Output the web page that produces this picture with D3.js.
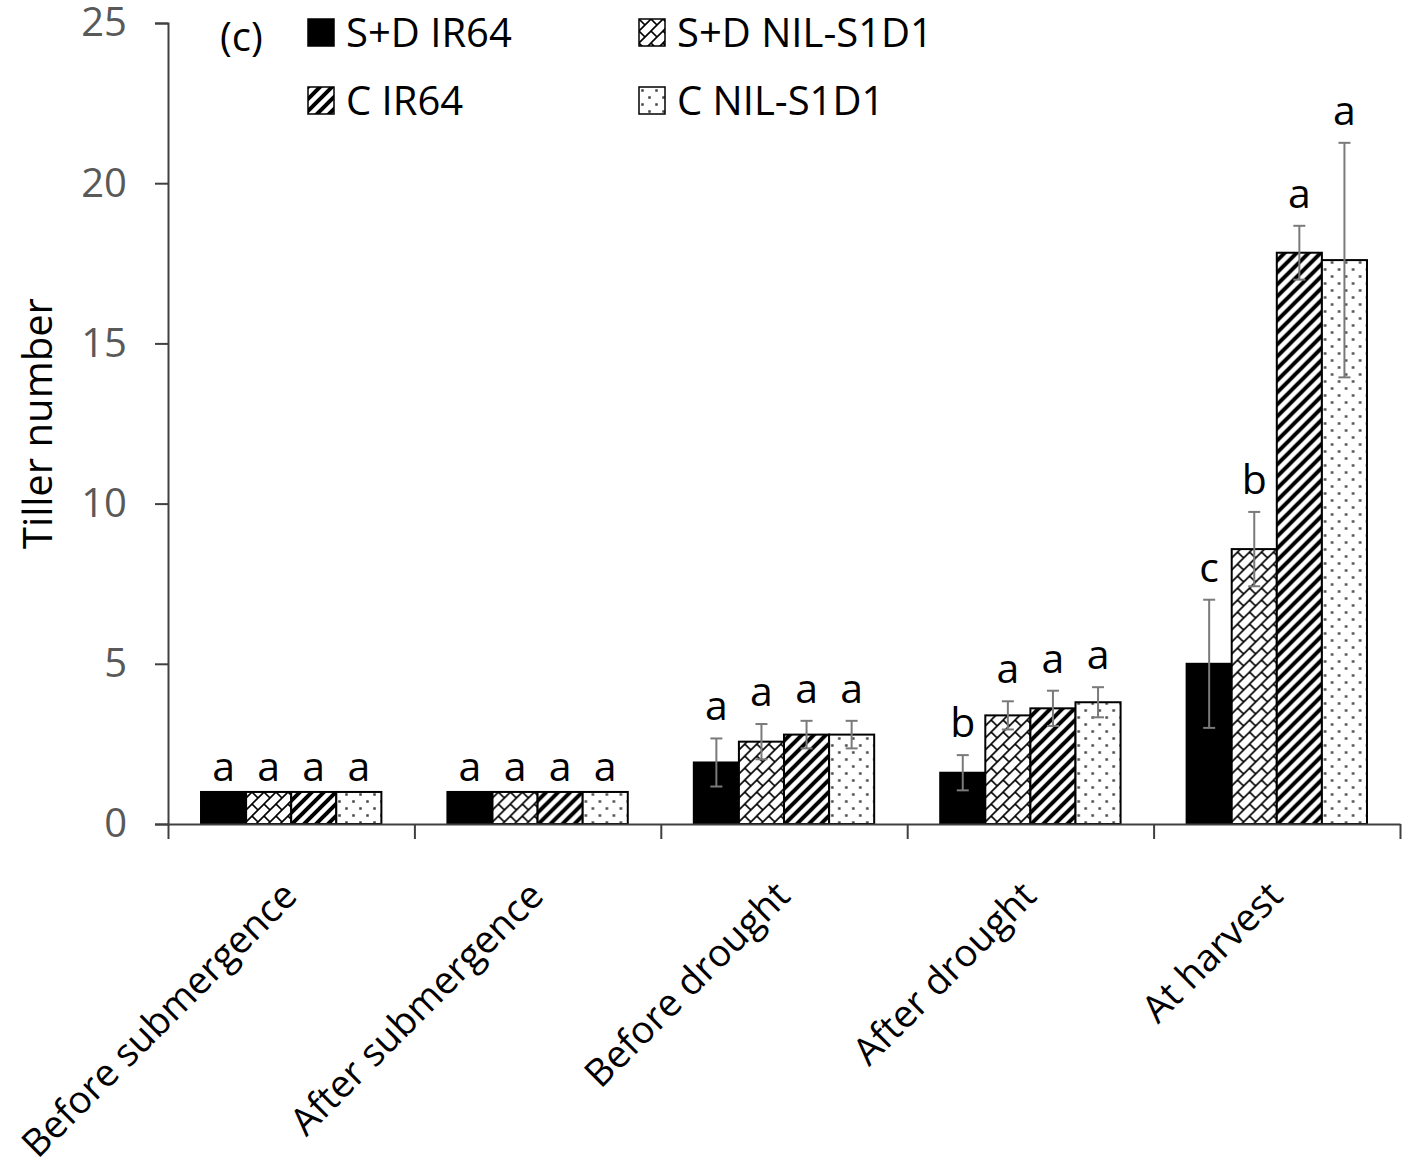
<!DOCTYPE html>
<html>
<head>
<meta charset="utf-8">
<script src="https://cdn.jsdelivr.net/npm/d3@7/dist/d3.min.js"></script>
<style>
  body { margin: 0; background: #fff; }
  svg { display: block; }
  text { font-family: "Open Sans", "Noto Sans", sans-serif; }
</style>
</head>
<body>
<svg id="chart" width="1406" height="1166"></svg>
<script>
// stages on the x axis
var stages = ["Before submergence", "After submergence", "Before drought", "After drought", "At harvest"];
// treatments / series
var series = ["S+D IR64", "S+D NIL-S1D1", "C IR64", "C NIL-S1D1"];
var patterns = ["solid", "brick", "stripe", "dots"];

// mean tiller number per stage, one array per series
var sdIR64 = [1.0, 1.0, 1.92, 1.6, 5.0];
var sdNIL = [1.0, 1.0, 2.57, 3.39, 8.58];
var cIR64 = [1.0, 1.0, 2.79, 3.61, 17.83];
var cNIL = [1.0, 1.0, 2.79, 3.8, 17.6];

// error bar half-widths
var sdIR64Err = [0, 0, 0.75, 0.55, 2.0];
var sdNILErr = [0, 0, 0.55, 0.44, 1.16];
var cIR64Err = [0, 0, 0.43, 0.55, 0.84];
var cNILErr = [0, 0, 0.43, 0.47, 3.66];

// significance letters
var sdIR64Sig = ["a", "a", "a", "b", "c"];
var sdNILSig = ["a", "a", "a", "a", "b"];
var cIR64Sig = ["a", "a", "a", "a", "a"];
var cNILSig = ["a", "a", "a", "a", "a"];

var yTicks = [0, 5, 10, 15, 20, 25];

var means = [sdIR64, sdNIL, cIR64, cNIL];
var errs = [sdIR64Err, sdNILErr, cIR64Err, cNILErr];
var sigs = [sdIR64Sig, sdNILSig, cIR64Sig, cNILSig];

// flatten into records for the bars
var data = [];
stages.forEach(function(st, i) {
    series.forEach(function(s, j) {
        data.push({
            stage: st,
            series: s,
            pattern: patterns[j],
            value: means[j][i],
            err: errs[j][i],
            sig: sigs[j][i]
        });
    });
});

var svg = d3.select("#chart");
var plotLeft = 168, plotRight = 1400, plotTop = 23, plotBottom = 824;

var x = d3.scaleBand().domain(stages).range([plotLeft, plotRight]).padding(0);
var xs = d3.scaleBand()
    .domain(series)
    .range([x.bandwidth() * 0.134, x.bandwidth() * 0.866])
    .padding(0);
var y = d3.scaleLinear().domain([0, 25]).range([plotBottom, plotTop]);

/************************
 * fill patterns
 ************************/
var defs = svg.append("defs");

// diagonal brick: continuous "/" lines with staggered "\" joints
var brick = defs.append("pattern")
    .attr("id", "brick")
    .attr("patternUnits", "userSpaceOnUse")
    .attr("width", 12).attr("height", 12);
brick.append("rect").attr("width", 12).attr("height", 12).attr("fill", "#fff");
brick.append("path")
    .attr("d", "M-3,3L3,-3M0,12L12,0M9,15L15,9M0,0L6,6M12,0L18,6M0,12L6,18M-6,-6L0,0")
    .attr("stroke", "#000").attr("stroke-width", 1.6).attr("fill", "none");

var stripe = defs.append("pattern")
    .attr("id", "stripe")
    .attr("patternUnits", "userSpaceOnUse")
    .attr("width", 12).attr("height", 12);
stripe.append("rect").attr("width", 12).attr("height", 12).attr("fill", "#fff");
stripe.append("path")
    .attr("d", "M-3,3L3,-3M0,12L12,0M9,15L15,9")
    .attr("stroke", "#000").attr("stroke-width", 4).attr("fill", "none");

var dots = defs.append("pattern")
    .attr("id", "dots")
    .attr("patternUnits", "userSpaceOnUse")
    .attr("width", 14).attr("height", 14);
dots.append("rect").attr("width", 14).attr("height", 14).attr("fill", "#fff");
[[3.5, 3.5], [10.5, 10.5]].forEach(function(p) {
    dots.append("rect")
        .attr("x", p[0] - 1.25).attr("y", p[1] - 1.25)
        .attr("width", 2.5).attr("height", 2.5)
        .attr("fill", "#444");
});

function fillOf(p) {
    return p === "solid" ? "#000" : "url(#" + p + ")";
}

/************************
 * bars
 ************************/
var groups = svg.append("g").attr("id", "bars")
    .selectAll("g")
    .data(stages)
    .enter()
    .append("g")
    .attr("transform", function(d) { return "translate(" + x(d) + ",0)"; });

groups.selectAll("rect")
    .data(function(st) { return data.filter(function(d) { return d.stage === st; }); })
    .enter()
    .append("rect")
    .attr("x", function(d) { return xs(d.series); })
    .attr("y", function(d) { return y(d.value); })
    .attr("width", xs.bandwidth())
    .attr("height", function(d) { return y(0) - y(d.value); })
    .attr("fill", function(d) { return fillOf(d.pattern); })
    .attr("stroke", "#000")
    .attr("stroke-width", 2);

// error bars
var eb = groups.selectAll("g.err")
    .data(function(st) { return data.filter(function(d) { return d.stage === st && d.err > 0; }); })
    .enter()
    .append("g")
    .attr("class", "err")
    .attr("stroke", "#7a7a7a")
    .attr("stroke-width", 2);
eb.append("line")
    .attr("x1", function(d) { return xs(d.series) + xs.bandwidth() / 2; })
    .attr("x2", function(d) { return xs(d.series) + xs.bandwidth() / 2; })
    .attr("y1", function(d) { return y(d.value - d.err); })
    .attr("y2", function(d) { return y(d.value + d.err); });
[-1, 1].forEach(function(s) {
    eb.append("line")
        .attr("x1", function(d) { return xs(d.series) + xs.bandwidth() / 2 - 6; })
        .attr("x2", function(d) { return xs(d.series) + xs.bandwidth() / 2 + 6; })
        .attr("y1", function(d) { return y(d.value + s * d.err); })
        .attr("y2", function(d) { return y(d.value + s * d.err); });
});

// significance letters
groups.selectAll("text.sig")
    .data(function(st) { return data.filter(function(d) { return d.stage === st; }); })
    .enter()
    .append("text")
    .attr("class", "sig")
    .attr("x", function(d) { return xs(d.series) + xs.bandwidth() / 2; })
    .attr("y", function(d) { return y(d.value + d.err) - (d.err > 0 ? 18 : 11); })
    .attr("text-anchor", "middle")
    .attr("font-size", 41)
    .attr("fill", "#000")
    .text(function(d) { return d.sig; });

/************************
 * axes
 ************************/
var yAxis = svg.append("g")
    .attr("transform", "translate(" + plotLeft + ",0)")
    .call(d3.axisLeft(y).tickValues(yTicks).tickSize(13).tickPadding(28));
yAxis.select(".domain").attr("stroke", "#404040").attr("stroke-width", 2);
yAxis.selectAll(".tick line").attr("stroke", "#404040").attr("stroke-width", 2);
yAxis.selectAll(".tick text")
    .attr("font-size", 40)
    .attr("fill", "#595959")
    .attr("font-family", "'Open Sans', sans-serif");

// x axis: ticks at the stage boundaries
var xb = d3.scaleLinear().domain([0, stages.length]).range([plotLeft, plotRight]);
var xAxis = svg.append("g")
    .attr("transform", "translate(0," + plotBottom + ")")
    .call(d3.axisBottom(xb).ticks(stages.length).tickSize(15).tickSizeOuter(0).tickFormat(""));
xAxis.select(".domain").attr("stroke", "#404040").attr("stroke-width", 2);
xAxis.selectAll(".tick line").attr("stroke", "#404040").attr("stroke-width", 2);

svg.append("g").selectAll("text")
    .data(stages)
    .enter()
    .append("text")
    .attr("transform", function(d) {
        return "translate(" + (x(d) + x.bandwidth() / 2 + 8) + "," + (plotBottom + 74) + ") rotate(-45)";
    })
    .attr("text-anchor", "end")
    .attr("font-size", 38)
    .attr("fill", "#000")
    .text(function(d) { return d; });

svg.append("text")
    .attr("transform", "translate(52," + (plotTop + plotBottom) / 2 + ") rotate(-90)")
    .attr("text-anchor", "middle")
    .attr("font-size", 40)
    .attr("fill", "#000")
    .text("Tiller number");

// panel label
svg.append("text")
    .attr("x", 220).attr("y", 51)
    .attr("font-size", 40)
    .attr("fill", "#000")
    .text("(c)");

/************************
 * legend
 ************************/
var legendPos = [[308, 19], [639, 19], [308, 87], [639, 87]];
var leg = svg.append("g").selectAll("g")
    .data(series)
    .enter()
    .append("g")
    .attr("transform", function(d, i) {
        return "translate(" + legendPos[i][0] + "," + legendPos[i][1] + ")";
    });
leg.append("rect")
    .attr("width", 26).attr("height", 27)
    .attr("fill", function(d, i) { return fillOf(patterns[i]); })
    .attr("stroke", "#000")
    .attr("stroke-width", 1.5);
leg.append("text")
    .attr("x", 38).attr("y", 28)
    .attr("font-size", 40)
    .attr("fill", "#000")
    .text(function(d) { return d; });
</script>
</body>
</html>
